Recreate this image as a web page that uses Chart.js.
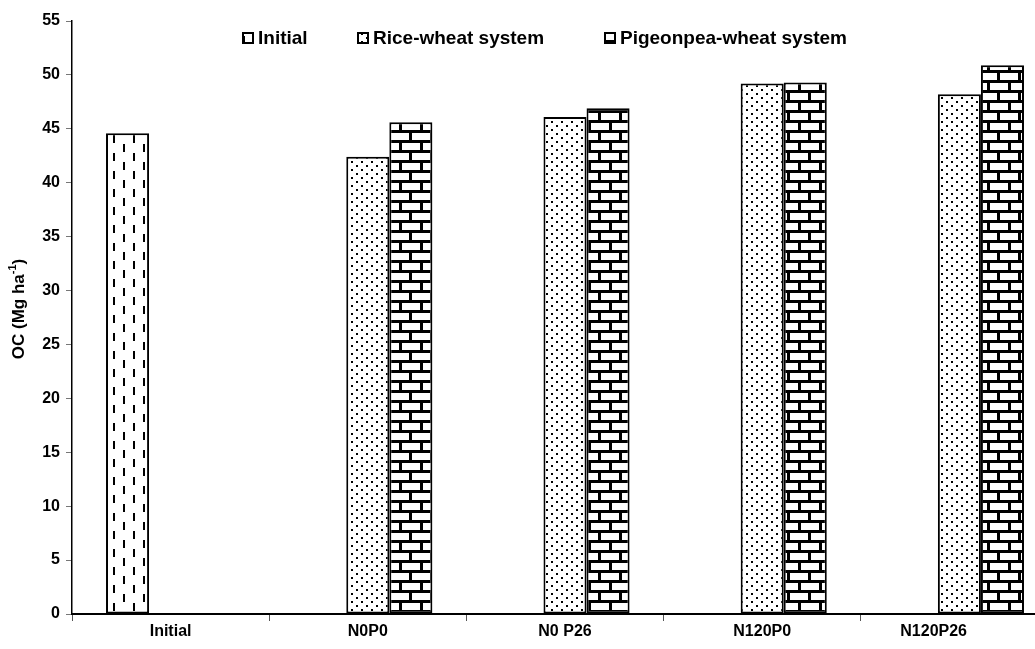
<!DOCTYPE html>
<html>
<head>
<meta charset="utf-8">
<script src="https://cdn.jsdelivr.net/npm/chart.js@4/dist/chart.umd.min.js"></script>
<style>
  html, body { margin: 0; padding: 0; background: #fff; overflow: hidden; }
  #wrap { width: 1035px; height: 649px; overflow: hidden; }
</style>
</head>
<body>
<div id="wrap"><canvas id="ocChart" width="1060" height="649"></canvas></div>
<script>
// ===== data =====
const categories = ["Initial", "N0P0", "N0 P26", "N120P0", "N120P26"];
const initialOC = [44.6, null, null, null, null];
const riceWheatOC = [null, 42.4, 46.1, 49.2, 48.2];
const pigeonpeaWheatOC = [null, 45.6, 46.9, 49.3, 50.9];
const seriesNames = ["Initial", "Rice-wheat system", "Pigeonpea-wheat system"];
const yTicks = [0, 5, 10, 15, 20, 25, 30, 35, 40, 45, 50, 55];

const FONT = "'Liberation Sans', Arial, sans-serif";

// ===== patterns =====
function makeTile(w, h, draw) {
    const c = document.createElement("canvas");
    c.width = w; c.height = h;
    const g = c.getContext("2d");
    g.fillStyle = "#fff";
    g.fillRect(0, 0, w, h);
    g.fillStyle = "#000";
    draw(g);
    return document.createElement("canvas").getContext("2d").createPattern(c, "repeat");
}

const dashFill = makeTile(20, 18, g => {
    g.fillRect(3, 0, 2, 8);
    g.fillRect(13, 9, 2, 8);
});
const dotFill = makeTile(10, 8, g => {
    g.fillRect(1, 1, 2, 2);
    g.fillRect(6, 5, 2, 2);
});
const brickFill = makeTile(21, 20, g => {
    g.fillRect(0, 0, 21, 3);
    g.fillRect(0, 10, 21, 3);
    g.fillRect(0, 0, 3, 10);
    g.fillRect(10, 10, 3, 10);
});
const fills = [dashFill, dotFill, brickFill];

// ===== legend, x labels + y title drawn by hand =====
const legendX = [243, 358, 605];
const legendY = 38;
const visibleWidth = 1035;

const extras = {
    id: "extras",
    afterDraw(chart) {
        const ctx = chart.ctx;
        ctx.save();
        ctx.font = "bold 19px " + FONT;
        ctx.textBaseline = "middle";
        seriesNames.forEach((name, i) => {
            const x = legendX[i];
            ctx.fillStyle = fills[i];
            ctx.fillRect(x, legendY - 5, 10, 10);
            ctx.strokeStyle = "#000";
            ctx.lineWidth = 2;
            ctx.strokeRect(x, legendY - 5, 10, 10);
            ctx.fillStyle = "#000";
            ctx.textAlign = "left";
            ctx.fillText(name, x + 15, legendY + 1);
        });

        // category labels (last one kept inside the picture like the original)
        const xs = chart.scales.x;
        ctx.font = "bold 16px " + FONT;
        ctx.textAlign = "center";
        ctx.textBaseline = "top";
        categories.forEach((lab, i) => {
            const w = ctx.measureText(lab).width;
            let cx = xs.getPixelForTick(i);
            cx = Math.min(cx, visibleWidth - 68 - w / 2);
            ctx.fillText(lab, cx, xs.top + 10);
        });

        // y title with superscript
        ctx.translate(19, 309);
        ctx.rotate(-Math.PI / 2);
        ctx.textBaseline = "middle";
        const big = "bold 17px " + FONT, small = "bold 11px " + FONT;
        ctx.font = big;
        const w1 = ctx.measureText("OC (Mg ha").width;
        const w3 = ctx.measureText(")").width;
        ctx.font = small;
        const w2 = ctx.measureText("-1").width;
        let x = -(w1 + w2 + w3) / 2;
        ctx.textAlign = "left";
        ctx.font = big;
        ctx.fillText("OC (Mg ha", x, 0);
        x += w1;
        ctx.font = small;
        ctx.fillText("-1", x, -6);
        x += w2;
        ctx.font = big;
        ctx.fillText(")", x, 0);
        ctx.restore();
    }
};

// ===== chart =====
new Chart(document.getElementById("ocChart"), {
    type: "bar",
    data: {
        labels: categories,
        datasets: [initialOC, riceWheatOC, pigeonpeaWheatOC].map((vals, i) => ({
            label: seriesNames[i],
            data: vals,
            backgroundColor: fills[i],
            borderColor: "#000",
            borderWidth: 2,
            borderSkipped: false,
            categoryPercentage: 0.655,
            barPercentage: 1.0
        }))
    },
    options: {
        responsive: false,
        animation: false,
        devicePixelRatio: 1,
        layout: { padding: { top: 21, right: 2, left: 0, bottom: 0 } },
        plugins: { legend: { display: false }, tooltip: { enabled: false } },
        scales: {
            x: {
                grid: { offset: true, drawOnChartArea: false, color: "#555", tickLength: 7 },
                border: { color: "#000", width: 2 },
                ticks: { display: false },
                afterFit: s => { s.height = 35; }
            },
            y: {
                min: 0,
                max: 55,
                afterBuildTicks: s => { s.ticks = yTicks.map(v => ({ value: v })); },
                grid: { drawOnChartArea: false, color: "#777", tickLength: 6 },
                border: { color: "#000", width: 1.5 },
                ticks: { color: "#000", font: { family: FONT, size: 16, weight: "bold" }, padding: 6 },
                afterFit: s => { s.width = 72; }
            }
        }
    },
    plugins: [extras]
});
</script>
</body>
</html>
